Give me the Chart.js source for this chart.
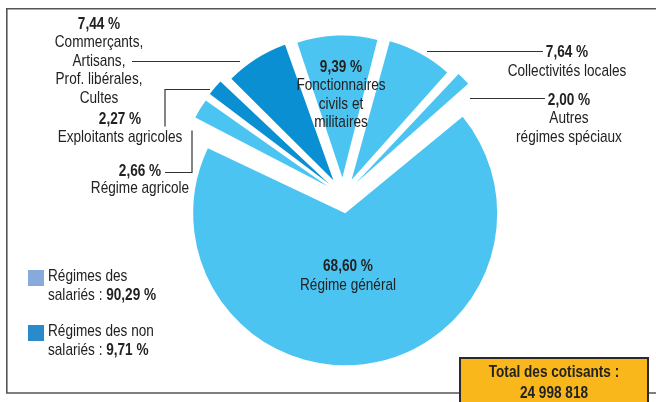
<!DOCTYPE html>
<html>
<head>
<meta charset="utf-8">
<script src="https://cdn.jsdelivr.net/npm/chart.js@4.4.0/dist/chart.umd.min.js"></script>
<style>
  html, body { margin: 0; padding: 0; background: #fff; }
  canvas { display: block; }
</style>
</head>
<body>
<canvas id="cotisants" width="656" height="402"></canvas>
<script>
// Répartition des cotisants par régime (en %)
var categories = [
  ['Fonctionnaires', 'civils et', 'militaires'],
  ['Collectivités locales'],
  ['Autres', 'régimes spéciaux'],
  ['Régime général'],
  ['Régime agricole'],
  ['Exploitants agricoles'],
  ['Commerçants,', 'Artisans,', 'Prof. libérales,', 'Cultes']
];
var parts = [9.39, 7.64, 2.00, 68.60, 2.66, 2.27, 7.44];
var salarie = [true, true, true, true, true, false, false];
var groupes = [['Régimes des', 'salariés : '], ['Régimes des non', 'salariés : ']];
var groupeParts = [90.29, 9.71];
var totalLabel = 'Total des cotisants :';
var totalCotisants = '24 998 818';

var FONT = "'Liberation Sans', Arial, sans-serif";
var SX = 0.8; // narrow the type like the original condensed face
var CLAIR = '#4cc4f2', FONCE = '#0a8fd2';

function pct(v) { return v.toFixed(2).replace('.', ',') + ' %'; }

function txt(ctx, s, x, y, bold) {
  ctx.save();
  ctx.font = (bold ? 'bold ' : '') + '17px ' + FONT;
  ctx.translate(x, y);
  ctx.scale(SX, 1);
  ctx.fillText(s, 0, 0);
  var w = ctx.measureText(s).width * SX;
  ctx.restore();
  return w;
}

// position of each label block and its leader line
var labelPos = [
  { x: 341, y: 67, lh: 18.5, line: null },
  { x: 567, y: 52, lh: 19, line: [[427, 51], [543, 51]] },
  { x: 569, y: 100, lh: 18.5, line: [[470, 98], [545, 98]] },
  { x: 348, y: 266, lh: 19, line: null },
  { x: 140, y: 171, lh: 17.5, line: [[165, 172], [192, 172], [192, 130]] },
  { x: 120, y: 119, lh: 18.5, line: [[165, 126], [165, 89], [210, 89]] },
  { x: 99, y: 24, lh: 18.5, line: [[132, 61], [240, 61]] }
];

var decor = {
  id: 'decor',
  beforeDraw: function (chart) {
    var ctx = chart.ctx;
    ctx.save();
    ctx.strokeStyle = '#555';
    ctx.lineWidth = 1.6;
    ctx.beginPath();
    ctx.moveTo(656, 8.8);
    ctx.lineTo(6.8, 8.8);
    ctx.lineTo(6.8, 393);
    ctx.lineTo(656, 393);
    ctx.stroke();
    ctx.restore();
  },
  afterDraw: function (chart) {
    var ctx = chart.ctx;
    ctx.save();
    ctx.textAlign = 'center';
    ctx.textBaseline = 'middle';
    ctx.fillStyle = '#222';

    // labels and leader lines
    labelPos.forEach(function (p, i) {
      if (p.line) {
        ctx.strokeStyle = '#333';
        ctx.lineWidth = 1.2;
        ctx.beginPath();
        p.line.forEach(function (pt, k) {
          if (k === 0) ctx.moveTo(pt[0], pt[1] + 0.5);
          else ctx.lineTo(pt[0], pt[1] + 0.5);
        });
        ctx.stroke();
      }
      txt(ctx, pct(parts[i]), p.x, p.y, true);
      categories[i].forEach(function (t, k) {
        txt(ctx, t, p.x, p.y + p.lh * (k + 1), false);
      });
    });

    // legend
    var legCols = ['#87a9dc', '#2a8bcb'];
    var legY = [270, 325];
    ctx.textAlign = 'left';
    groupes.forEach(function (g, i) {
      ctx.fillStyle = legCols[i];
      ctx.fillRect(28, legY[i], 16, 16);
      ctx.fillStyle = '#222';
      txt(ctx, g[0], 48, legY[i] + 6, false);
      var w = txt(ctx, g[1], 48, legY[i] + 25, false);
      txt(ctx, pct(groupeParts[i]), 48 + w, legY[i] + 25, true);
    });

    // total box
    ctx.fillStyle = '#f9b71b';
    ctx.fillRect(460, 358, 188, 60);
    ctx.strokeStyle = '#2a2a2a';
    ctx.lineWidth = 2;
    ctx.strokeRect(460, 358, 188, 60);
    ctx.fillStyle = '#222';
    ctx.textAlign = 'center';
    txt(ctx, totalLabel, 554, 372, true);
    txt(ctx, totalCotisants, 554, 393, true);
    ctx.restore();
  }
};

var ctx = document.getElementById('cotisants').getContext('2d');
var chart = new Chart(ctx, {
  type: 'pie',
  data: {
    labels: categories,
    datasets: [{
      data: parts,
      backgroundColor: salarie.map(function (s) { return s ? CLAIR : FONCE; }),
      borderWidth: 0,
      offset: 72,
      hoverOffset: 0
    }]
  },
  options: {
    responsive: false,
    animation: false,
    devicePixelRatio: 1,
    rotation: -19,
    radius: 134,
    layout: { padding: { left: 163, right: 133, top: 15, bottom: 26 } },
    plugins: {
      legend: { display: false },
      tooltip: { enabled: false }
    }
  },
  plugins: [decor]
});
</script>
</body>
</html>
